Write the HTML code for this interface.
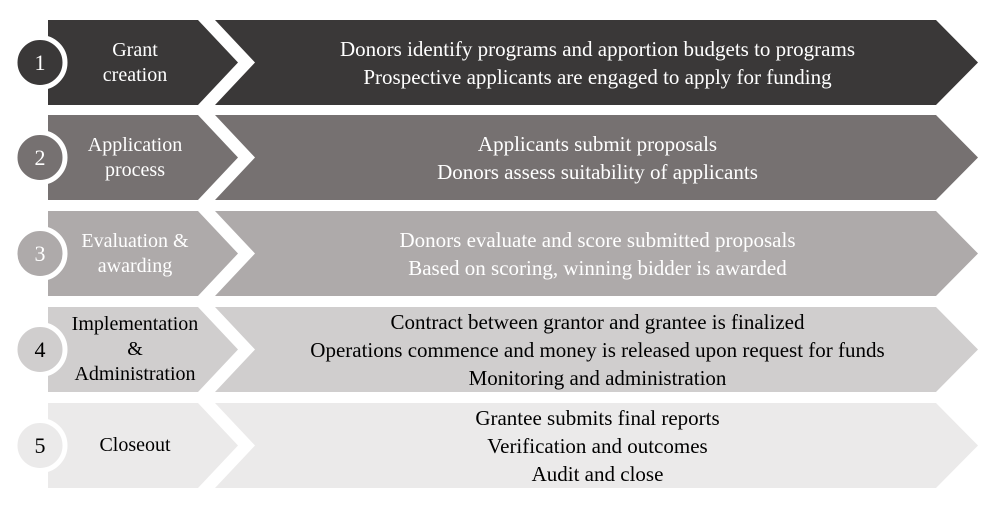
<!DOCTYPE html>
<html><head><meta charset="utf-8">
<style>
html,body{margin:0;padding:0;background:#fff;width:1000px;height:505px;overflow:hidden;font-family:"Liberation Serif",serif;}
.wrap{position:relative;width:1000px;height:505px;}
svg{position:absolute;left:0;top:0;}
.lbl{position:absolute;left:55px;width:160px;text-align:center;font-size:20px;line-height:25px;display:flex;align-items:center;justify-content:center;}
.desc{position:absolute;left:240px;width:715px;text-align:center;font-size:21px;line-height:28px;display:flex;flex-direction:column;align-items:center;justify-content:center;}
.num{position:absolute;left:16px;width:48px;text-align:center;font-size:22px;}
</style></head><body>
<div class="wrap">
<svg width="1000" height="505" id="svg"></svg>
</div>
<script>
const labels=[["Grant","creation"],["Application","process"],["Evaluation &","awarding"],["Implementation","&","Administration"],["Closeout"]];
const descs=[["Donors identify programs and apportion budgets to programs","Prospective applicants are engaged to apply for funding"],["Applicants submit proposals","Donors assess suitability of applicants"],["Donors evaluate and score submitted proposals","Based on scoring, winning bidder is awarded"],["Contract between grantor and grantee is finalized","Operations commence and money is released upon request for funds","Monitoring and administration"],["Grantee submits final reports","Verification and outcomes","Audit and close"]];
const fills=["#3a3838","#767171","#aeaaaa","#d0cece","#ebeaea"];
const txt=["#fff","#fff","#fff","#000","#000"];
const tops=[20,115,211,307,403];
const H=85;
const svg=document.getElementById('svg');
const wrap=document.querySelector('.wrap');
const NS="http://www.w3.org/2000/svg";
for(let i=0;i<5;i++){
  const t=tops[i],b=t+H,m=t+H/2;
  const p1=document.createElementNS(NS,'polygon');
  p1.setAttribute('points',`48,${t} 198,${t} 238,${m} 198,${b} 48,${b}`);
  p1.setAttribute('fill',fills[i]);
  
  
  svg.appendChild(p1);
  const p2=document.createElementNS(NS,'polygon');
  p2.setAttribute('points',`215,${t} 936,${t} 978,${m} 936,${b} 215,${b} 255,${m}`);
  p2.setAttribute('fill',fills[i]);
  
  
  svg.appendChild(p2);
  const c=document.createElementNS(NS,'circle');
  c.setAttribute('cx',40);c.setAttribute('cy',m);c.setAttribute('r',25);
  c.setAttribute('fill',fills[i]);c.setAttribute('stroke','#fff');c.setAttribute('stroke-width',5);
  
  
  svg.appendChild(c);
  const n=document.createElement('div');
  n.className='num';n.style.top=(m-13)+'px';n.style.color=txt[i];n.textContent=i+1;
  
  
  wrap.appendChild(n);
  const l=document.createElement('div');
  l.className='lbl';l.style.top=t+'px';l.style.height=H+'px';l.style.color=txt[i];
  l.innerHTML=labels[i].join('<br>');
  
  
  wrap.appendChild(l);
  const d=document.createElement('div');
  d.className='desc';d.style.top=t+'px';d.style.height=H+'px';d.style.color=txt[i];
  d.innerHTML=descs[i].map(s=>'<div>'+s.replace(/&/g,'&amp;')+'</div>').join('');
  
  
  wrap.appendChild(d);
}
</script>
</body></html>
